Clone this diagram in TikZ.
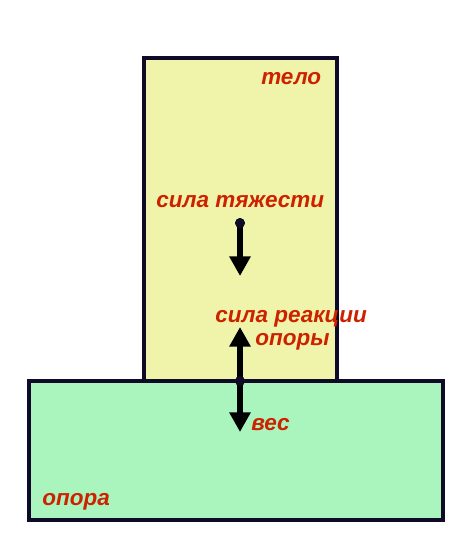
\documentclass[tikz,border=0pt]{standalone}
\usepackage{fontspec}
\setmainfont{Liberation Sans}
\definecolor{zheltyj}{RGB}{240,244,170}
\definecolor{zelenyj}{RGB}{170,245,190}
\definecolor{kontur}{RGB}{14,10,40}
\definecolor{krasnyj}{RGB}{204,34,0}
\usetikzlibrary{arrows.meta,positioning}
\tikzstyle{blok}  =[draw=kontur, line width=2.2pt]
\tikzstyle{sila}  =[line width=3.6pt, draw=black,
                    -{Triangle[width=14.5pt,length=14pt]}]
\tikzstyle{tochka}=[circle, fill=kontur, minimum size=7pt,
                    inner sep=0pt, outer sep=0pt]
\tikzstyle{metka} =[text=krasnyj, inner sep=0pt, anchor=base west,
                    font=\fontsize{16}{18}\selectfont\bfseries\itshape]

\begin{document}
\begin{tikzpicture}[x=0.025cm,y=-0.025cm]
    \useasboundingbox (0,0) rectangle (475,543);

    % telo i opora
    \draw [blok,fill=zheltyj] (144,58) rectangle (337,381);
    \draw [blok,fill=zelenyj] (29,381) rectangle (443,520);

    % tochki prilozheniya
    \node (t1) [tochka] at (240,223) {};
    \node (t2) [tochka] at (240,381) {};
    \coordinate (tyazh) at (240,276);
    \coordinate (reak) at (240,327);
    \coordinate (ves) at (240,432);

    \draw [sila] (t1.center) to (tyazh);
    \draw [sila] (t2.center) to (reak);
    \draw [sila] (t2.center) to (ves);
    \node [tochka] at (240,223) {};
    \node [tochka] at (240,381) {};

    % nadpisi
    \node (telo) [metka] at (261,85) {тело};
    \node (tyazhest) [metka] at (156,208) {сила тяжести};
    \node (reakciya) [metka] at (215,322) {сила реакции};
    \node (opory) [metka] at (255,345) {опоры};
    \node (vesn) [metka] at (251,430) {вес};
    \node (oporan) [metka] at (42,505) {опора};
\end{tikzpicture}
\end{document}
